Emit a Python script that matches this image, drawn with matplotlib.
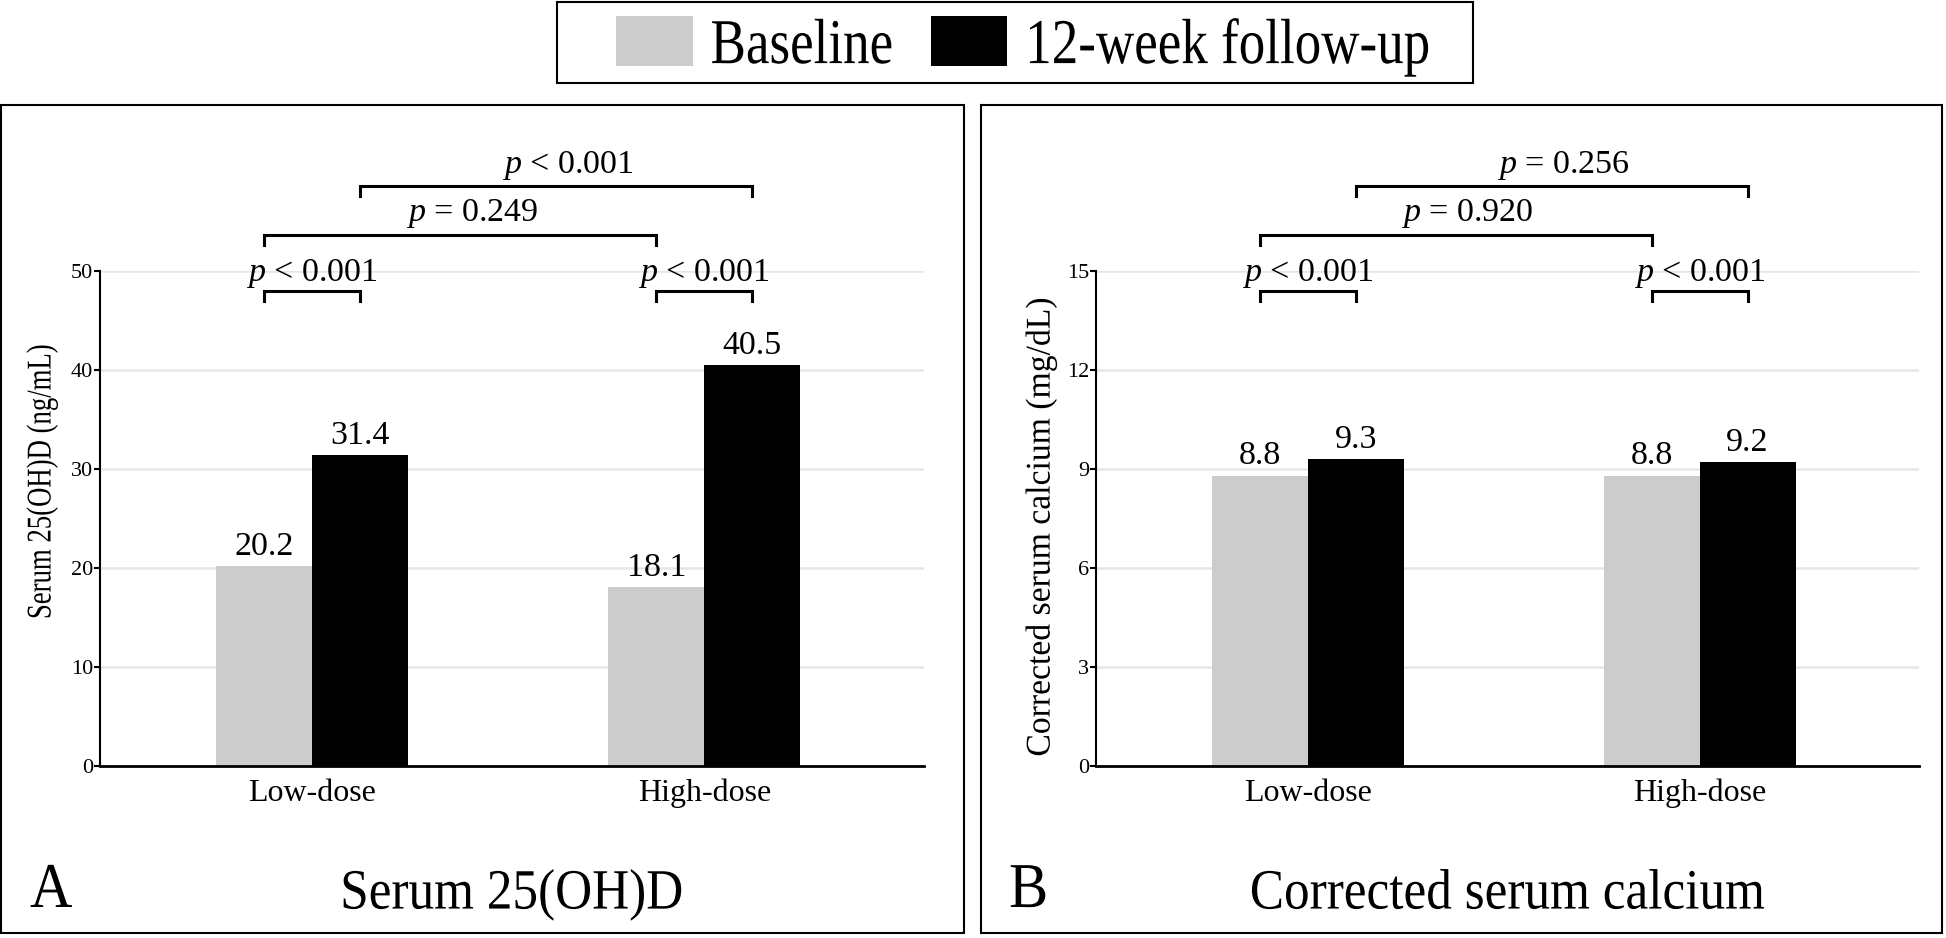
import matplotlib
matplotlib.use("Agg")
import matplotlib.pyplot as plt
import numpy as np
from matplotlib.patches import Patch, Rectangle
from matplotlib.patheffects import AbstractPathEffect
from matplotlib.transforms import Affine2D, blended_transform_factory

plt.rcParams['font.family'] = ['Liberation Serif', 'DejaVu Serif']
plt.rcParams['mathtext.fontset'] = 'custom'
plt.rcParams['mathtext.rm'] = 'Liberation Serif'
plt.rcParams['mathtext.it'] = 'Liberation Serif:italic'

# data
groups = ['Low-dose', 'High-dose']
series = ['Baseline', '12-week follow-up']
vitd_base = [20.2, 18.1]
vitd_follow = [31.4, 40.5]
ca_base = [8.8, 8.8]
ca_follow = [9.3, 9.2]
# p-values: within low, within high, between baselines, between follow-ups
vitd_p = ['< 0.001', '< 0.001', '= 0.249', '< 0.001']
ca_p = ['< 0.001', '< 0.001', '= 0.920', '= 0.256']

GREY = '#cccccc'
W, H = 1946, 938


class Squeeze(AbstractPathEffect):
    # narrows text along its own direction (the source font is condensed)
    def __init__(self, sx, anchor='center'):
        super().__init__()
        self.sx = sx
        self.anchor = anchor

    def draw_path(self, renderer, gc, tpath, affine, rgbFace=None):
        ext = tpath.get_extents()
        x0 = 0 if self.anchor == 'left' else (ext.x0 + ext.x1) / 2
        t = Affine2D().translate(-x0, 0).scale(self.sx, 1).translate(x0, 0) + affine
        renderer.draw_path(gc, tpath, t, rgbFace)


fig = plt.figure(figsize=(W / 100, H / 100), dpi=100)

# panel frames
for x0, x1 in [(1, 964), (981, 1942)]:
    fig.add_artist(Rectangle((x0 / W, 5 / H), (x1 - x0) / W, 828 / H,
                             transform=fig.transFigure, fill=False,
                             ec='black', lw=1.5))


def panel(rect, base, follow, top, step, pvals, ylabel, ylab_xy, ylab_sq, title, letter):
    ax = fig.add_axes(rect)
    x = np.arange(len(groups))
    bw = 0.245
    ax.bar(x - bw / 2, base, bw, color=GREY, lw=0, zorder=2)
    ax.bar(x + bw / 2, follow, bw, color='black', lw=0, zorder=2)
    for xs, vals in [(x - bw / 2, base), (x + bw / 2, follow)]:
        for xi, v in zip(xs, vals):
            ax.annotate(f'{v:.1f}', (xi, v), xytext=(0, 8), textcoords='offset points',
                        ha='center', va='baseline', fontsize=24.5)
    ax.set_xlim(-0.54, 1.56)
    ax.set_ylim(0, top)
    ax.set_yticks(np.arange(0, top + 0.1, step))
    ax.set_xticks(x, groups)
    ax.tick_params(axis='x', length=0, pad=9, labelsize=23)
    ax.tick_params(axis='y', length=4, width=1.5, pad=1, labelsize=16)
    ax.yaxis.grid(True, color='#e6e6e6', lw=1.8)
    ax.set_axisbelow(True)
    ax.spines[['top', 'right']].set_visible(False)
    ax.spines['left'].set_linewidth(1.5)
    ax.spines['bottom'].set_linewidth(2)

    lab = ax.set_ylabel(ylabel, fontsize=25)
    ax.yaxis.set_label_coords(*ylab_xy)
    lab.set_va('center')
    lab.set_path_effects([Squeeze(ylab_sq)])

    # significance brackets (x in data, y in axes fraction)
    tr = blended_transform_factory(ax.transData, ax.transAxes)
    spans = [(x[0] - bw / 2, x[0] + bw / 2, 0.959, 0.980),
             (x[1] - bw / 2, x[1] + bw / 2, 0.959, 0.980),
             (x[0] - bw / 2, x[1] - bw / 2, 1.072, 1.102),
             (x[0] + bw / 2, x[1] + bw / 2, 1.172, 1.198)]
    for (xa, xb, yl, yt), p in zip(spans, pvals):
        ax.plot([xa, xa, xb, xb], [yl - 0.02, yl, yl, yl - 0.02], color='black',
                lw=2.2, transform=tr, clip_on=False, solid_joinstyle='miter')
        off = 0.0 if yl < 1 else 0.03
        ax.text((xa + xb) / 2 + off, yt, f'$p$ {p}', transform=tr, ha='center',
                va='baseline', fontsize=24.5)

    ax.text(0.5, -0.288, title, transform=ax.transAxes, ha='center', va='baseline',
            fontsize=41, path_effects=[Squeeze(0.9)])
    fig.text(letter[1] / W, 31 / H, letter[0], fontsize=46, va='baseline',
             path_effects=[Squeeze(0.92, 'left')])
    return ax


panel([100 / W, 172 / H, 824 / W, 495 / H], vitd_base, vitd_follow, 50, 10, vitd_p,
      'Serum 25(OH)D (ng/mL)', (-0.0704, 0.574), 0.77, 'Serum 25(OH)D', ('A', 30))
panel([1096 / W, 172 / H, 823 / W, 495 / H], ca_base, ca_follow, 15, 3, ca_p,
      'Corrected serum calcium (mg/dL)', (-0.067, 0.484), 0.97,
      'Corrected serum calcium', ('B', 1009))

# legend
handles = [Patch(facecolor=GREY, lw=0, label=series[0]),
           Patch(facecolor='black', lw=0, label=series[1])]
leg = fig.legend(handles=handles, loc='center left',
                 bbox_to_anchor=(616 / W, 1 - 46.5 / H), ncol=2, frameon=False,
                 fontsize=46, handlelength=1.2, handleheight=0.83,
                 handletextpad=0.28, columnspacing=0.0, borderpad=0, borderaxespad=0)
for t in leg.get_texts():
    t.set_path_effects([Squeeze(0.83, 'left')])
fig.add_artist(Rectangle((557 / W, 855 / H), 916 / W, 81 / H, transform=fig.transFigure,
                         fill=False, ec='black', lw=1.5))

fig.savefig('out.png', dpi=100)
